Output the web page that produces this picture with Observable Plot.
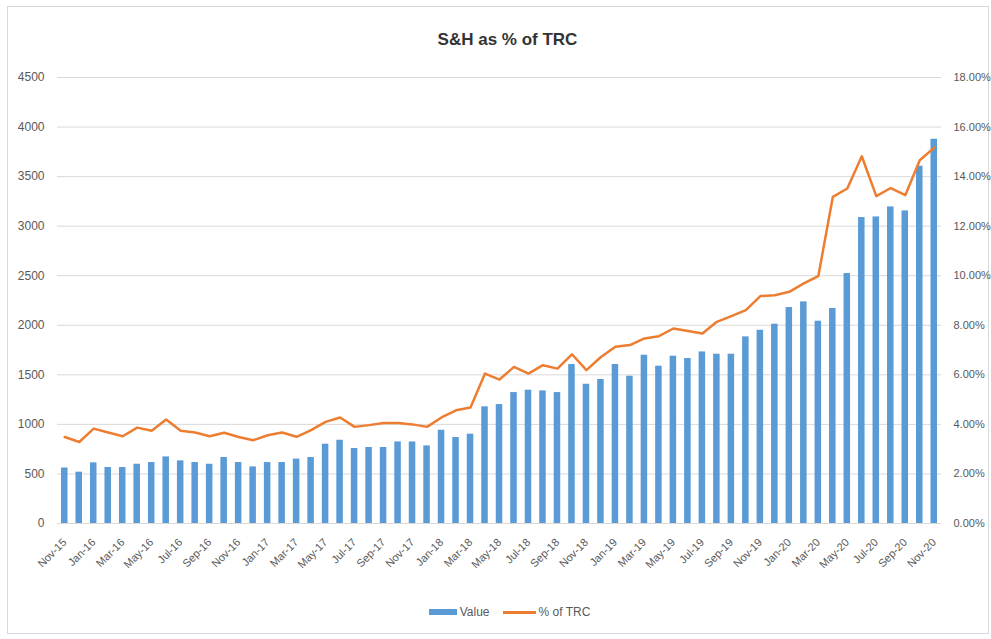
<!DOCTYPE html>
<html>
<head>
<meta charset="utf-8">
<script src="https://cdn.jsdelivr.net/npm/d3@7"></script>
<script src="https://cdn.jsdelivr.net/npm/@observablehq/plot@0.6"></script>
<style>
  body { margin:0; width:991px; height:639px; position:relative; background:#fff; overflow:hidden;
         font-family:"Liberation Sans", Arial, sans-serif; }
  #frame { position:absolute; left:7px; top:6px; width:982px; height:628px; border:1px solid #d9d9d9; box-sizing:border-box; }
  #title { position:absolute; top:30px; left:12px; width:991px; text-align:center; font-weight:bold; font-size:17px; line-height:20px; color:#333; }
  #chart { position:absolute; top:60px; left:0; width:991px; }
  #legend { position:absolute; top:603px; left:14px; width:991px; display:flex; justify-content:center; align-items:center; font-size:12px; color:#595959; gap:13px; line-height:18px; }
  .item { display:flex; align-items:center; gap:3px; }
  .sw-bar { width:28px; height:6px; background:#5B9BD5; }
  .sw-line { width:33px; height:3px; background:#ED7D31; }
</style>
</head>
<body>
<div id="frame"></div>
<div id="title">S&amp;H as % of TRC</div>
<div id="chart"></div>
<div id="legend">
  <div class="item"><div class="sw-bar"></div><span>Value</span></div>
  <div class="item"><div class="sw-line"></div><span>% of TRC</span></div>
</div>
<script>
const months = [
  "Nov-15","Dec-15",
  "Jan-16","Feb-16","Mar-16","Apr-16","May-16","Jun-16","Jul-16","Aug-16","Sep-16","Oct-16","Nov-16","Dec-16",
  "Jan-17","Feb-17","Mar-17","Apr-17","May-17","Jun-17","Jul-17","Aug-17","Sep-17","Oct-17","Nov-17","Dec-17",
  "Jan-18","Feb-18","Mar-18","Apr-18","May-18","Jun-18","Jul-18","Aug-18","Sep-18","Oct-18","Nov-18","Dec-18",
  "Jan-19","Feb-19","Mar-19","Apr-19","May-19","Jun-19","Jul-19","Aug-19","Sep-19","Oct-19","Nov-19","Dec-19",
  "Jan-20","Feb-20","Mar-20","Apr-20","May-20","Jun-20","Jul-20","Aug-20","Sep-20","Oct-20","Nov-20"
];
const values = [
  560, 518,
  612, 565, 565, 598, 615, 672, 632, 615, 598, 666, 615, 571,
  615, 615, 650, 666, 800, 840, 757, 767, 767, 823, 823, 783,
  941, 868, 901, 1177, 1200, 1321, 1345, 1338, 1321, 1604, 1405, 1453,
  1604, 1486, 1698, 1587, 1688, 1665, 1731, 1708, 1708, 1883, 1950, 2011,
  2179, 2236, 2041, 2169, 2522, 3087, 3093, 3194, 3154, 3605, 3877
];
const pctOfTRC = [
  3.49, 3.29,
  3.83, 3.67, 3.52, 3.87, 3.74, 4.20, 3.74, 3.67, 3.52, 3.66, 3.49, 3.36,
  3.56, 3.67, 3.50, 3.77, 4.10, 4.28, 3.90, 3.97, 4.06, 4.06, 4.00, 3.90,
  4.28, 4.57, 4.68, 6.05, 5.81, 6.32, 6.05, 6.39, 6.25, 6.83, 6.19, 6.72,
  7.13, 7.20, 7.47, 7.56, 7.87, 7.77, 7.67, 8.14, 8.37, 8.61, 9.18, 9.21,
  9.35, 9.69, 9.98, 13.18, 13.52, 14.82, 13.21, 13.54, 13.25, 14.66, 15.17
];
const leftTicks = [0, 500, 1000, 1500, 2000, 2500, 3000, 3500, 4000, 4500];
const rightMax = 18;   // % at top of right axis
const leftMax = 4500;
const xTickLabels = months.filter((d, i) => i % 2 === 0);

const data = months.map((m, i) => ({month: m, value: values[i], pct: pctOfTRC[i]}));
const k = leftMax / rightMax; // map % onto the shared y scale

const M = {marginTop: 17, marginBottom: 72, marginLeft: 57, marginRight: 50};

const chart = Plot.plot({
  width: 991,
  height: 535,
  ...M,
  style: {fontFamily: '"Liberation Sans", Arial, sans-serif', color: "#595959", background: "transparent"},
  x: {type: "band", domain: months, paddingInner: 0.55, paddingOuter: 0.275, round: false},
  y: {domain: [0, leftMax]},
  marks: [
    Plot.gridY(leftTicks, {stroke: "#d9d9d9", strokeOpacity: 1, strokeWidth: 1}),
    Plot.barY(data, {x: "month", y: "value", fill: "#5B9BD5"}),
    Plot.line(data, {x: "month", y: d => d.pct * k, stroke: "#ED7D31", strokeWidth: 2.5, strokeLinejoin: "round"}),
    Plot.axisY(leftTicks, {anchor: "left", tickSize: 0, tickPadding: 13, fontSize: 12, label: null,
      tickFormat: d => String(d)}),
    Plot.axisY(leftTicks, {anchor: "right", tickSize: 0, tickPadding: 12, fontSize: 11, label: null,
      tickFormat: d => (d / k).toFixed(2) + "%"}),
    Plot.axisX(xTickLabels, {tickRotate: -45, tickSize: 0, tickPadding: 17, fontSize: 11, label: null})
  ]
});
document.getElementById("chart").appendChild(chart);
</script>
</body>
</html>
